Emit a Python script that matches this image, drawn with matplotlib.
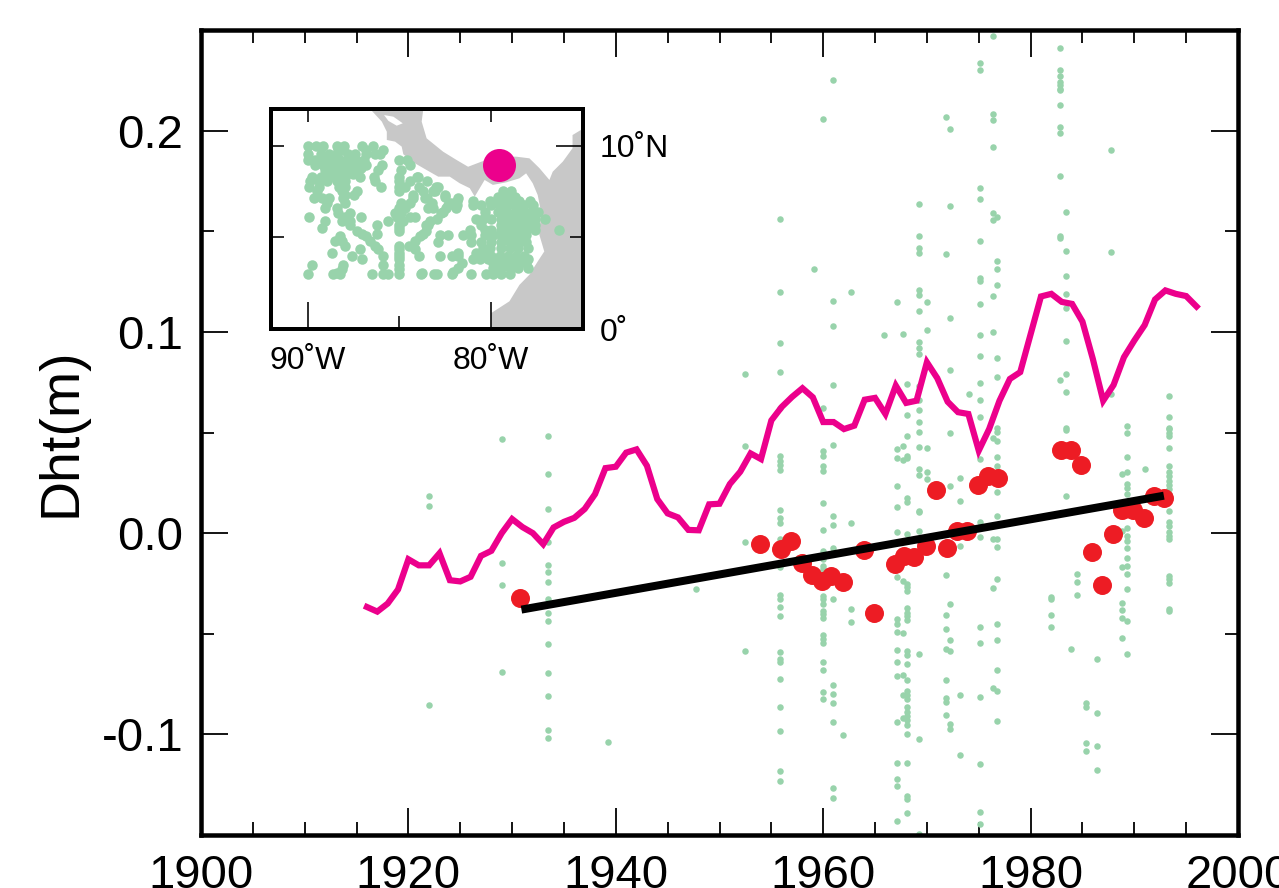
#!/usr/bin/env python3
"""Dynamic height trend with station inset map."""

import matplotlib
matplotlib.use('Agg')
import matplotlib.pyplot as plt
from matplotlib.ticker import FixedLocator, NullFormatter

plt.rcParams['font.family'] = ['Liberation Sans', 'DejaVu Sans']
plt.rcParams['axes.unicode_minus'] = False

PINK = '#ec008c'
RED = '#ed1c24'
GREEN = '#98d3ab'
LAND = '#c8c8c8'

# yearly series (pink)
years = list(range(1916, 1997))
dht = [-.0367, -.039, -.035, -.028, -.013, -.016, -.016, -.010, -.0234, -.024,
       -.0217, -.0113, -.0088, 0.0, .007, .003, 0.0, -.0055, .0028, .0056,
       .0076, .012, .0194, .0323, .033, .040, .0416, .0335, .0169, .0098,
       .0078, .0016, .0014, .0143, .0146, .0244, .0305, .0396, .0368, .056,
       .0627, .0677, .072, .0675, .0552, .0552, .0517, .0534, .0663, .0672,
       .0592, .0733, .0647, .0658, .0849, .077, .0653, .0601, .0592, .041,
       .0517, .0658, .0766, .080, .0988, .1176, .1189, .1149, .1139, .1051,
       .0866, .0658, .0736, .0874, .0957, .1034, .1161, .1206, .1189, .1178,
       .1126]

# red dots
red_years = [1930.8, 1953.9, 1955.9, 1956.9, 1958.0, 1958.9, 1959.9, 1960.8, 1961.9,
             1963.9, 1964.9, 1966.9, 1967.8, 1968.8, 1969.9, 1970.9, 1971.9, 1972.9,
             1973.9, 1974.9, 1975.9, 1976.9, 1982.9, 1983.9, 1984.9, 1985.9, 1986.9,
             1987.9, 1988.8, 1989.9, 1990.9, 1991.9, 1992.9]
red_vals = [-.0323, -.0053, -.0081, -.004, -.0146, -.0207, -.024, -.0214, -.0245,
            -.0085, -.0395, -.0154, -.0114, -.0121, -.0063, .0214, -.0076, .001,
            .001, .0237, .0284, .0274, .0411, .0411, .0337, -.0096, -.026,
            -.0006, .0114, .0114, .0076, .0183, .0173]

# trend line
trend_years = [1930.9, 1992.85]
trend_vals = [-.038, .0186]

# green station values, one list per column
g_1922 = [.0186, .0133, -.0854]
g_1929 = [.0468, -.0146, -.026, -.0688]
g_1933 = [.0484, .0294, .0121, -.0046, -.0158, -.0192, -.0245, -.0328, -.0398,
          -.0436, -.0552, -.0697, -.0811, -.098, -.1018]
g_1939 = [-.104]
g_1947 = [-.028]
g_1952 = [.0431, -.0043, -.0585, .079]
g_1956 = [.156, .1196, .0947, .0801, .062, .0385, .0357, .0338, .0315, .0116, .0075,
          .0048, -.003, -.0166, -.0307, -.0328, -.0365, -.041, -.0589, -.0627, -.0638,
          -.0726, -.0864, -.0983, -.1182, -.1232]
g_1959 = [.1313]
g_1960 = [.062, .041, .0385, .0335, .0308, .0149, .0015, -.0088, -.0129, -.0163,
          -.0179, -.0312, -.0328, -.0353, -.0386, -.0403, -.042, -.0506, -.0524,
          -.0544, -.0638, -.068, -.0788, -.0826, .2058]
g_1961 = [.225, .1153, .1027, .0736, .0438, .0086, .0041, -.0075, -.0325, -.0756,
          -.0801, -.0846, -.094, -.1265, -.1315]
g_1962 = [-.1003]
g_1963 = [.1197, .0048, -.0375, -.0444]
g_1966 = [.0985]
g_1967a = [.1149, .0418, .0373, .0232, .0129, .0007, -.0219, -.0428, -.0453, -.0489,
           -.058, -.0638, -.0711, -.0937, -.1141, -.1224, -.1259, -.143]
g_1967b = [.0988, .0434, .0365, -.0237, -.0498, -.0705, -.0804, -.0919]
g_1968 = [.074, .0587, .0481, .0385, .0371, .0177, .0153, -.0005, -.0254, -.027, -.029,
          -.037, -.0395, -.0411, -.0431, -.0585, -.0605, -.0652, -.073, -.0784, -.0804,
          -.0826, -.0864, -.0887, -.0909, -.0929, -.0954, -.1, -.1144, -.1307, -.1323, -.139]
g_1969 = [.1633, .1474, .1416, .1393, .1209, .1184, .1106, .095, .0919, .0889, .073,
          .0662, .0614, .0554, .0504, .043, .0318, .0289, .0111, .0103, .0012, -.0602,
          -.1025, -.1494]
g_1970 = [.1149, .1008, .0423, .0302, .0269]
g_1972a = [.207, .1388, -.0207, -.0406, -.0478, -.0577, -.073, -.0818, -.0837, -.0904]
g_1972b = [.201, .1627, .107, .0809, .0496, .0232, -.035, -.0532, -.0585, -.0947, -.0972]
g_1973 = [.0274, .0161, -.0063, -.0804, -.1101]
g_1974 = [.069]
g_1975 = [.2337, .2299, .1715, .1662, .1454, .1267, .1255, .1139, .0985, .0881, .0748,
          .0663, .0575, .0368, .0053, -.0017, -.0464, -.0547, -.0814, -.1146, -.1385, -.1443]
g_1976a = [.2468, .2085, .2055, .192, .1592, .1554, .1179, .1, .0471, -.003, -.0274, -.0768]
g_1976b = [.1572, .1352, .1313, .1235, .0872, .0778, .0522, .0504, .0458, .0376, .0332,
           .0206, .0083, -.003, -.007, -.0227, -.0453, -.0532, -.068, -.0784, -.0934]
g_1982 = [-.0317, -.0328, -.0406, -.0468]
g_1983a = [.241, .2303, .2272, .2242, .2226, .2209, .2204, .2129, .202, .199, .1776,
           .1474, .1468, .0763]
g_1983b = [.1597, .1401, .1279, .1189, .1121, .0954, .0789, .0701, .0522, .0512, .0186]
g_1984a = [-.0574]
g_1984b = [-.0204, -.0242, -.0307]
g_1985 = [-.0842, -.0864, -.1045, -.1083]
g_1986 = [-.0627, -.0896, -.106, -.1177]
g_1988a = [.1905, .1398, .069]
g_1988b = [.0294, .0012, -.0167, -.0348, -.0383, -.042, -.0521]
g_1989 = [.0531, .05, .038, .0302, .0244, .0222, .0194, .0025, -.0013, -.0038, -.0076,
          -.0126, -.0163, -.0204, -.028, -.0436, -.0602]
g_1991 = [.0317]
g_1993 = [.0683, .0575, .0522, .0517, .05, .0481, .0423, .0332, .0302, .0282, .026,
          .0239, .0219, .0194, .0111, .0053, .0036, .0007, -.0013, -.003, -.0212, -.0229,
          -.0249, -.0375, -.0386]

green_columns = [(1922.0, g_1922), (1929.0, g_1929), (1933.45, g_1933), (1939.2, g_1939),
                 (1947.7, g_1947), (1952.5, g_1952), (1955.85, g_1956), (1959.1, g_1959),
                 (1959.95, g_1960), (1960.9, g_1961), (1961.9, g_1962), (1962.7, g_1963),
                 (1965.9, g_1966), (1967.1, g_1967a), (1967.7, g_1967b), (1968.1, g_1968),
                 (1969.2, g_1969), (1970.0, g_1970), (1971.8, g_1972a), (1972.2, g_1972b),
                 (1973.2, g_1973), (1974.1, g_1974), (1975.1, g_1975), (1976.4, g_1976a),
                 (1976.8, g_1976b), (1982.0, g_1982), (1982.85, g_1983a), (1983.4, g_1983b),
                 (1983.9, g_1984a), (1984.5, g_1984b), (1985.3, g_1985), (1986.4, g_1986),
                 (1987.8, g_1988a), (1988.8, g_1988b), (1989.3, g_1989), (1991.0, g_1991),
                 (1993.3, g_1993)]

x_major = [1900, 1920, 1940, 1960, 1980, 2000]
x_minor = [1905, 1910, 1915, 1925, 1930, 1935, 1945, 1950, 1955, 1965, 1970, 1975,
           1985, 1990, 1995]
y_major = [-0.1, 0.0, 0.1, 0.2]
y_minor = [-0.05, 0.05, 0.15]
y_labels = ['-0.1', '0.0', '0.1', '0.2']

# inset map: land outline
land_lon = [-86.6, -85.96, -85.69, -85.69, -85.24, -84.88, -84.79, -84.16, -83.52, -82.89,
            -82.26, -81.72, -81.17, -80.9, -80.36, -79.91, -79.18, -78.46, -78.1, -77.74,
            -77.47, -77.29, -77.38, -77.11, -77.47, -77.92, -78.46, -79.01, -80.0, -80.0,
            -75.0, -75.0, -75.11, -75.57, -75.57, -76.1, -76.65, -76.83, -77.37, -77.92,
            -78.64, -79.6, -80.53, -81.26, -81.89, -82.62, -83.52, -83.79, -83.7]
land_lat = [12.0, 11.31, 10.76, 10.31, 10.22, 9.95, 9.53, 9.04, 8.67, 8.31,
            8.31, 7.95, 7.68, 7.22, 8.13, 7.86, 8.0, 8.22, 8.49, 7.95,
            7.31, 6.41, 5.14, 4.23, 3.68, 2.96, 2.41, 1.51, 0.87, 0.0,
            0.0, 10.86, 10.86, 10.58, 9.86, 9.13, 8.58, 8.13, 8.77, 9.31,
            9.4, 9.4, 9.13, 8.85, 9.22, 9.67, 10.4, 11.31, 12.0]
lake_lon = [-85.84, -85.33, -84.82, -85.15, -85.6]
lake_lat = [11.67, 11.58, 11.22, 11.09, 11.35]

site_lon = -79.58
site_lat = 8.97

# inset stations west of about 83W, by latitude row
west_rows = [
    (10.0, [-90, -89.55, -89.15, -88.4, -88, -87.05, -86.45]),
    (9.76, [-88.35, -88.05, -86.8, -85.9]),
    (9.55, [-90, -89.3, -88.85, -88.4, -87.8, -87.4, -86.8, -86.35, -86.05]),
    (9.2, [-90, -89.6, -89.15, -88.7, -88.25, -87.8, -87.35, -86.95, -85.05, -84.6]),
    (8.95, [-89.6, -89.15, -88.7, -88.25, -87.8, -87.35, -86.85, -85.95, -84.45]),
    (8.8, [-88.9, -88.45, -88.0, -87.55, -87.1]),
    (8.65, [-89.05, -88.7, -88.25, -87.8, -87.35, -86.15, -84.9]),
    (8.45, [-88.9, -88.45, -88.0, -87.55]),
    (8.3, [-89.75, -89.3, -88.85, -88.4, -87.95, -87.15, -86.4, -85.05, -84, -84.07]),
    (8.05, [-89.85, -89.4, -88.95, -88.4, -87.95, -86.35, -85.05, -84.45, -83.5]),
    (7.75, [-89.95, -89.4, -88.3, -87.95, -86, -85.05, -83.95, -84.7, -82.9, -83.02]),
    (7.5, [-89.5, -88.15, -87.3, -85.05, -83.7, -83.05, -83.17]),
    (7.3, [-87.95, -87.5, -84.25, -82.53]),
    (7.15, [-89.65, -89.2, -88.85, -88.05, -84.25, -83.5, -83.6, -81.8]),
    (6.85, [-88.95, -87.95, -84.9, -84.45, -83.25, -82.17]),
    (6.6, [-89.05, -88.4, -85.05, -84.7, -83.45, -83.15, -82.44, -81.9]),
    (6.35, [-88.35, -87.7, -85.25, -84.9, -82.71]),
    (6.1, [-89.95, -87.1, -87.95, -85.15, -84.45, -84.15]),
    (5.9, [-89.05, -88.15, -87.7, -85.65, -84.8, -83.35]),
    (5.67, [-87.7, -86.25, -85.05, -83.45, -83.53]),
    (5.5, [-89.2, -85.05]),
    (5.35, [-87.3, -85.05, -83.55]),
    (5.2, [-86.2, -87.05, -83.7]),
    (5.05, [-88.25, -86.85, -83.9]),
    (4.8, [-88.5, -88.15, -86.6, -84.15]),
    (4.55, [-87.95, -86.35, -85.05, -84.5]),
    (4.35, [-87.15, -86.15, -85.05, -84.15]),
    (4.15, [-88.7, -85.05]),
    (3.98, [-87.6, -85.9, -85.05, -83.95]),
    (3.8, [-87.05, -85.05]),
    (3.5, [-89.75, -88.05, -85.9, -85.05]),
    (3.3, [-88.15, -85.05]),
    (3.05, [-88.4, -83.75]),
    (2.98, [-90, -88.6, -88.25, -86.5, -85.9, -85.65, -85.05, -83.85, -83.1]),
]
# and east of it
east_rows = [
    (7.5, [-79.36, -78.91]),
    (7.2, [-79.63, -79.18, -78.73, -82.53]),
    (7.0, [-80.99, -80.09, -79.63, -79.18, -78.73, -78.46, -77.91, -81.89]),
    (6.75, [-80.99, -80.54, -80, -79.54, -79.09, -78.64, -78.19, -77.73, -81.89, -82.35]),
    (6.4, [-80.36, -79.63, -79.18, -78.73, -78.28, -77.82, -77.46, -82.62]),
    (6.2, [-79.4, -78.95, -78.5, -78.05, -77.6]),
    (6.0, [-80.81, -80.45, -80, -79.45, -79, -78.55, -78.1, -77.64, -77.05, -82.98]),
    (5.85, [-79.25, -78.8, -78.35, -77.9]),
    (5.67, [-80.54, -79.45, -79, -78.55, -78.1, -77.64]),
    (5.4, [-81.17, -80.36, -80, -79.45, -79, -78.55, -78.1, -77.64, -76.32]),
    (5.13, [-82.8, -82.35, -81.53, -81.08, -80.36, -79.9, -79.45, -79, -78.55, -78.1]),
    (4.95, [-79.25, -78.8, -78.35]),
    (4.76, [-82.89, -81.08, -80.54, -80, -79.45, -79, -78.55, -78.1]),
    (4.4, [-80.45, -80.09, -79.45, -79, -78.55, -78]),
    (4.13, [-81.8, -80.81, -80.45]),
    (3.98, [-82.8, -82.16, -81.8, -80, -79.54, -79.09, -78.64, -78.19]),
    (3.8, [-80.99, -80.63, -80.17, -79.72, -79.27, -78.82, -78.37, -78]),
    (3.58, [-81.62, -79.9, -79.45, -79, -78.55, -78.1]),
    (3.35, [-81.8, -79.9, -79.45, -79, -78.55, -78]),
    (3.13, [-82.07]),
    (2.98, [-82.98, -82.16, -81.08, -80.26, -79.9, -79.45, -79]),
]
inset_lon = [lon for lat, lons in west_rows + east_rows for lon in lons]
inset_lat = [lat for lat, lons in west_rows + east_rows for lon in lons]


def px(v):
    """Longitud en pixeles a puntos (dpi 100)."""
    return v * 72.0 / 100.0


fig = plt.figure(figsize=(12.79, 8.88), dpi=100, facecolor='white')

# Grafico principal
ax = fig.add_axes([201 / 1279, 53 / 888, 1037 / 1279, 805 / 888])
for year, vals in green_columns:
    ax.scatter([year] * len(vals), vals, s=px(6.5) ** 2, color=GREEN, linewidths=0, zorder=2)
ax.plot(years, dht, color=PINK, linewidth=px(6.2), solid_joinstyle='miter', zorder=3)
ax.scatter(red_years, red_vals, s=px(19) ** 2, color=RED, linewidths=0, zorder=4)
ax.plot(trend_years, trend_vals, color='black', linewidth=px(8),
        solid_capstyle='butt', zorder=5)

ax.set_xlim(1900, 2000)
ax.set_ylim(-0.15, 0.25)
ax.xaxis.set_major_locator(FixedLocator(x_major))
ax.xaxis.set_minor_locator(FixedLocator(x_minor))
ax.yaxis.set_major_locator(FixedLocator(y_major))
ax.yaxis.set_minor_locator(FixedLocator(y_minor))
ax.set_xticklabels([str(v) for v in x_major])
ax.set_yticklabels(y_labels)
ax.tick_params(which='major', direction='in', length=px(27), width=px(1.8),
               top=True, right=True, labelsize=34)
ax.tick_params(which='minor', direction='in', length=px(13), width=px(1.8),
               top=True, right=True)
ax.tick_params(axis='x', which='major', pad=px(19))
ax.tick_params(axis='y', which='major', pad=px(18))
ax.set_ylabel('Dht(m)', fontsize=40, labelpad=px(14))
for spine in ax.spines.values():
    spine.set_linewidth(px(4.5))

# Mapa insertado
inset = fig.add_axes([271 / 1279, (888 - 329) / 888, 312 / 1279, 220 / 888])
inset.set_facecolor('white')
inset.fill(land_lon, land_lat, color=LAND, linewidth=0, zorder=1)
inset.fill(lake_lon, lake_lat, color='white', linewidth=0, zorder=1.5)
inset.scatter(inset_lon, inset_lat, s=px(10.5) ** 2, color=GREEN, linewidths=0, zorder=2)
inset.scatter([site_lon], [site_lat], s=px(33) ** 2, color=PINK, linewidths=0, zorder=3)
inset.set_xlim(-92, -75)
inset.set_ylim(0, 12)

inset.xaxis.set_major_locator(FixedLocator([-90, -80]))
inset.xaxis.set_minor_locator(FixedLocator([-85]))
inset.set_xticklabels(['90˚W', '80˚W'])
inset.yaxis.tick_right()
inset.yaxis.set_major_locator(FixedLocator([0, 10]))
inset.yaxis.set_minor_locator(FixedLocator([5]))
inset.set_yticklabels(['0˚', '10˚N'])
inset.tick_params(which='major', direction='in', length=px(27), width=px(1.6), labelsize=23)
inset.tick_params(which='minor', direction='in', length=px(13), width=px(1.6))
inset.tick_params(axis='x', which='major', pad=px(17))
inset.tick_params(axis='y', which='major', pad=px(17))
for spine in inset.spines.values():
    spine.set_linewidth(px(4))

# marcas cortas arriba e izquierda
top = inset.secondary_xaxis('top')
top.xaxis.set_major_locator(FixedLocator([-90, -85, -80]))
top.xaxis.set_major_formatter(NullFormatter())
top.tick_params(direction='in', length=px(13), width=px(1.6))
left = inset.secondary_yaxis('left')
left.yaxis.set_major_locator(FixedLocator([5, 10]))
left.yaxis.set_major_formatter(NullFormatter())
left.tick_params(direction='in', length=px(13), width=px(1.6))
for sec in (top, left):
    for spine in sec.spines.values():
        spine.set_linewidth(px(4))

fig.savefig('out.png', dpi=100)
plt.close(fig)
